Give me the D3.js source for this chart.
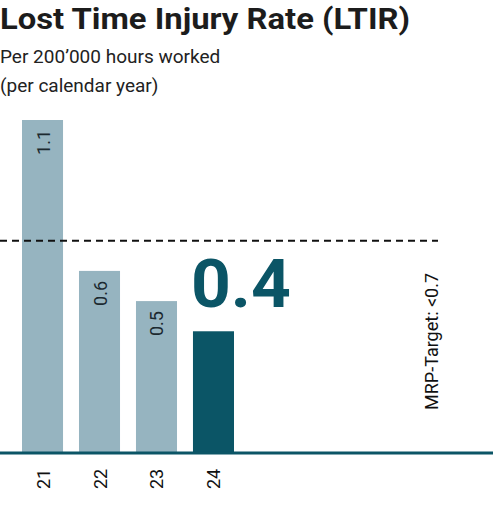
<!DOCTYPE html>
<html><head><meta charset="utf-8">
<script src="https://cdn.jsdelivr.net/npm/d3@7"></script>
<style>body{margin:0;background:#fff}svg{display:block}</style>
</head><body><div id="chart"></div>
<script>
const years = ["21", "22", "23", "24"];
const values = [1.1, 0.6, 0.5, 0.4];
const target = 0.7;
const targetLabel = "MRP-Target: <0.7";

const W = 493, H = 527;
const baseY = 452;
const svg = d3.select("#chart").append("svg").attr("width", W).attr("height", H)
  .style("font-family", "Roboto, sans-serif");

const x = d3.scaleBand().domain(years).range([22, 234]).paddingInner(0.28).paddingOuter(0);
const y = d3.scaleLinear().domain([0, 1.1]).range([baseY, 120]);

svg.append("text").attr("x", 0).attr("y", 29).attr("font-size", 29).attr("font-weight", 700)
  .attr("fill", "#1c1c1c").attr("textLength", 410).attr("lengthAdjust", "spacingAndGlyphs")
  .text("Lost Time Injury Rate (LTIR)");
svg.append("text").attr("x", 0).attr("y", 63).attr("font-size", 19).attr("fill", "#222").text("Per 200’000 hours worked");
svg.append("text").attr("x", 0).attr("y", 92).attr("font-size", 19).attr("fill", "#222").text("(per calendar year)");

svg.selectAll("rect.bar").data(values).join("rect").attr("class", "bar")
  .attr("x", (d, i) => x(years[i])).attr("width", x.bandwidth())
  .attr("y", d => y(d)).attr("height", d => baseY - y(d))
  .attr("fill", (d, i) => i === values.length - 1 ? "#0b5566" : "#96b4c0");

svg.selectAll("text.val").data(values.slice(0, -1)).join("text").attr("class", "val")
  .attr("transform", (d, i) => `translate(${x(years[i]) + x.bandwidth() / 2 + 7},${y(d) + 10}) rotate(-90)`)
  .attr("text-anchor", "end").attr("font-size", 18).attr("fill", "#1c2a30").text(d => d);

const last = values.length - 1;
svg.append("text").attr("x", x(years[last]) - 2).attr("y", y(values[last]) - 24)
  .attr("font-size", 66).attr("font-weight", 700).attr("fill", "#0b5566")
  .attr("textLength", 100).attr("lengthAdjust", "spacingAndGlyphs").text(values[last]);

svg.append("line").attr("x1", 0).attr("x2", 438).attr("y1", y(target)).attr("y2", y(target))
  .attr("stroke", "#111").attr("stroke-width", 2).attr("stroke-dasharray", "7,5");
svg.append("text").attr("transform", `translate(438,410) rotate(-90)`)
  .attr("font-size", 18).attr("fill", "#111").text(targetLabel);

svg.append("line").attr("x1", 0).attr("x2", W).attr("y1", baseY + 1).attr("y2", baseY + 1)
  .attr("stroke", "#0b5566").attr("stroke-width", 3);

svg.selectAll("text.tick").data(years).join("text").attr("class", "tick")
  .attr("transform", d => `translate(${x(d) + x.bandwidth() / 2 + 7},489) rotate(-90)`)
  .attr("font-size", 18).attr("fill", "#111").text(d => d);
</script></body></html>
